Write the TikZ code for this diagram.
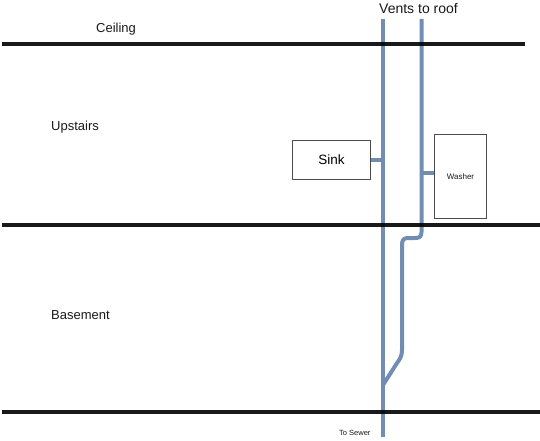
\documentclass[tikz,border=0pt]{standalone}
\usepackage{fontspec}
\setmainfont{Liberation Sans}
\tikzset{
  floorline/.style={line width=3.6pt,black,opacity=.9},
  pipe/.style={line width=4pt,color=pipeblue,line join=round},
  branch/.style={line width=3.2pt,color=pipeblue!90!gray},
  fixture/.style={draw=black!70,line width=.6pt,fill=white,inner sep=0pt},
  lab/.style={inner sep=0pt,text=black!90}
}
\definecolor{pipeblue}{RGB}{113,141,180}
\begin{document}
\begin{tikzpicture}[x=1pt,y=-1pt]
\useasboundingbox (0,0) rectangle (540,441);
\node[fixture,minimum width=78pt,minimum height=39pt] (sink) at (331.5,160) {\fontsize{13.5}{15}\selectfont Sink};
\node[fixture,minimum width=52pt,minimum height=84pt] (washer) at (460,176.5) {};
\node[lab] (washerlab) at (460.5,176.5) {\fontsize{8}{9}\selectfont Washer};
\coordinate (p1top) at (383,19);
\coordinate (p1bot) at (383,437);
\coordinate (p2top) at (421.5,19);
\coordinate (p1join) at (383,385);
\draw[pipe] (p1top) -- (p1bot);
\draw[pipe] (p2top) -- (421.5,232) .. controls (421.5,237) and (419,238) .. (415,238)
  -- (408,238) .. controls (403.5,238) and (402,240) .. (402,245)
  -- (402,350) .. controls (402,356) and (400,359) .. (397,363) -- (p1join);
\draw[branch] (sink.east |- 0,160) -- (383,160);
\draw[branch] (washer.west |- 0,173) -- (421.5,173);
\coordinate (f1a) at (2,44); \coordinate (f1b) at (525,44);
\coordinate (f2a) at (2,225); \coordinate (f2b) at (540,225);
\coordinate (f3a) at (2,412); \coordinate (f3b) at (540,412);
\draw[floorline] (f1a) -- (f1b);
\draw[floorline] (f2a) -- (f2b);
\draw[floorline] (f3a) -- (f3b);
\node[lab,anchor=west] (ceil) at (96,29) {\fontsize{13}{15}\selectfont Ceiling};
\node[lab,anchor=west] (up) at (51,127) {\fontsize{13}{15}\selectfont Upstairs};
\node[lab,anchor=west] (base) at (51,315) {\fontsize{13}{15}\selectfont Basement};
\node[lab,anchor=west] (vents) at (379,8.5) {\fontsize{14}{16}\selectfont Vents to roof};
\node[lab,anchor=west] (sewer) at (339,432.5) {\fontsize{7.5}{9}\selectfont To Sewer};
\end{tikzpicture}
\end{document}
